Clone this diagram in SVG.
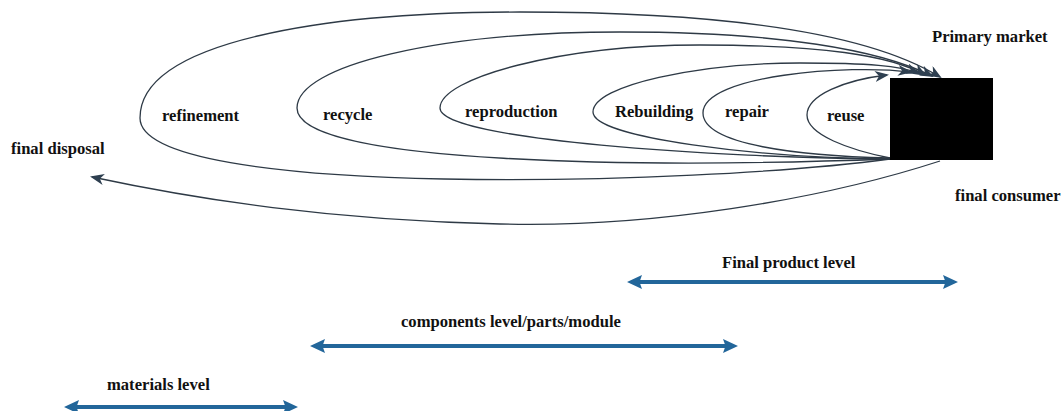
<svg xmlns="http://www.w3.org/2000/svg" width="1062" height="411" viewBox="0 0 1062 411">
<style>
  .lbl { font-family: "Liberation Serif", "Times New Roman", "DejaVu Serif", serif; font-weight: bold; font-size: 16.6px; fill: #111; }
  .loop { fill: none; stroke: #2e3a46; stroke-width: 1.3; marker-end: url(#dark); }
  .level { fill: none; stroke: #22669a; stroke-width: 4; marker-start: url(#blue); marker-end: url(#blue); }
</style>
<defs>
  <marker id="dark" markerUnits="userSpaceOnUse" markerWidth="14" markerHeight="11" viewBox="0 0 14 11" refX="12" refY="5.5" orient="auto">
    <path d="M0,0 L14,5.5 L0,11 L4,5.5 z" fill="#2e3f50"/>
  </marker>
  <marker id="blue" markerUnits="userSpaceOnUse" markerWidth="15" markerHeight="14" viewBox="0 0 15 14" refX="4" refY="7" orient="auto-start-reverse">
    <path d="M0,0 L15,7 L0,14 L2.5,7 z" fill="#22669a"/>
  </marker>
</defs>
<rect id="node-market" x="890" y="78" width="103" height="82" fill="#000"/>
<g id="connectors">
  <path id="c-refinement" class="loop" d="M890,159 C700,185 140,200 140,118 C140,40 330,12 520,12 C760,12 880,40 940,77"/>
  <path id="c-recycle" class="loop" d="M890,159 C650,168 297,165 297,108 C297,65 440,32 620,32 C780,32 880,50 932,76"/>
  <path id="c-reproduction" class="loop" d="M890,159 C720,158 440,140 440,108 C440,78 560,45 700,45 C820,45 890,55 925,75"/>
  <path id="c-rebuilding" class="loop" d="M890,159 C760,158 593,138 593,112 C593,85 700,63 800,63 C870,63 900,66 918,73"/>
  <path id="c-repair" class="loop" d="M890,158 C800,156 703,145 703,113 C703,75 850,64 910,72"/>
  <path id="c-reuse" class="loop" d="M890,158 C850,150 807,135 807,115 C807,95 845,80 887,75"/>
  <path id="c-disposal" class="loop" d="M940,161 C820,200 650,228 500,224 C330,220 200,200 92,177"/>
  <path id="c-product-level" class="level" d="M638,282 L947,282"/>
  <path id="c-components-level" class="level" d="M321,346 L727,346"/>
  <path id="c-materials-level" class="level" d="M75,407 L287,407"/>
</g>
<g id="labels">
  <text class="lbl" x="932" y="42">Primary market</text>
  <text class="lbl" x="955" y="201">final consumer</text>
  <text class="lbl" x="11" y="154">final disposal</text>
  <text class="lbl" x="162" y="121">refinement</text>
  <text class="lbl" x="323" y="120">recycle</text>
  <text class="lbl" x="465" y="117">reproduction</text>
  <text class="lbl" x="615" y="117">Rebuilding</text>
  <text class="lbl" x="725" y="117">repair</text>
  <text class="lbl" x="827" y="121">reuse</text>
  <text class="lbl" x="722" y="268">Final product level</text>
  <text class="lbl" x="401" y="327">components level/parts/module</text>
  <text class="lbl" x="107" y="390">materials level</text>
</g>
</svg>
